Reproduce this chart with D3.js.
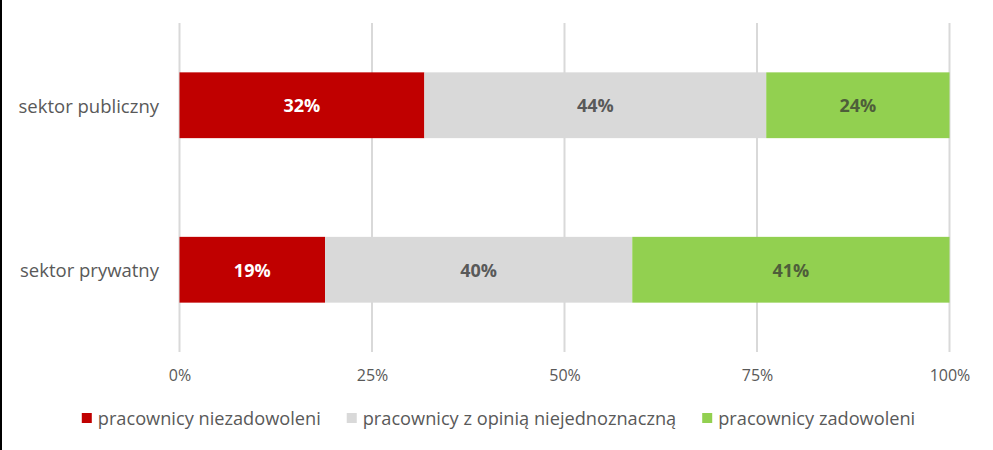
<!DOCTYPE html>
<html><head><meta charset="utf-8">
<script src="https://cdn.jsdelivr.net/npm/d3@7"></script>
<style>
html,body{margin:0;padding:0;background:#fff;}
svg{display:block;font-family:"Open Sans","Noto Sans",sans-serif;}
</style></head>
<body>
<svg id="c" width="993" height="450"></svg>
<script>
const categories = ["sektor publiczny", "sektor prywatny"];
const seriesNames = ["pracownicy niezadowoleni", "pracownicy z opinią niejednoznaczną", "pracownicy zadowoleni"];
const niezadowoleni = [31.8, 18.9];
const niejednoznaczni = [44.4, 39.9];
const zadowoleni = [23.8, 41.2];
const valueLabels = [["32%", "44%", "24%"], ["19%", "40%", "41%"]];
const tickValues = [0, 25, 50, 75, 100];
const colors = ["#C00000", "#D9D9D9", "#92D050"];
const labelColors = ["#FFFFFF", "#595959", "#4E5E3A"];

const svg = d3.select("#c");
svg.append("rect").attr("x",0).attr("y",0).attr("width",2).attr("height",450).attr("fill","#000");

const x = d3.scaleLinear().domain([0,100]).range([179.5, 949.5]);
const y = d3.scaleBand().domain(categories).range([23, 352]).paddingInner(0.6).paddingOuter(0.3);

// gridlines
svg.append("g").selectAll("line").data(tickValues).join("line")
  .attr("x1", d=>x(d)).attr("x2", d=>x(d)).attr("y1", 23).attr("y2", 352)
  .attr("stroke", "#D9D9D9").attr("stroke-width", 2);

const data = categories.map((c,i)=>({cat:c, vals:[niezadowoleni[i], niejednoznaczni[i], zadowoleni[i]], labels:valueLabels[i]}));
const segs = [];
data.forEach(d=>{ let acc=0; d.vals.forEach((v,j)=>{ segs.push({cat:d.cat, s:j, x0:acc, x1:acc+v, label:d.labels[j]}); acc+=v; }); });

svg.append("g").selectAll("rect").data(segs).join("rect")
  .attr("x", d=>x(d.x0)).attr("width", d=>x(d.x1)-x(d.x0))
  .attr("y", d=>y(d.cat)).attr("height", y.bandwidth())
  .attr("fill", d=>colors[d.s]);

svg.append("g").selectAll("text").data(segs).join("text")
  .attr("x", d=>(x(d.x0)+x(d.x1))/2).attr("y", d=>y(d.cat)+y.bandwidth()/2)
  .attr("text-anchor","middle").attr("dominant-baseline","central")
  .attr("font-size", 18).attr("font-weight","bold")
  .attr("fill", d=>labelColors[d.s]).text(d=>d.label);

// category labels
svg.append("g").selectAll("text").data(categories).join("text")
  .attr("x", 159).attr("y", d=>y(d)+y.bandwidth()/2)
  .attr("text-anchor","end").attr("dominant-baseline","central")
  .attr("font-size", 18.5).attr("fill","#595959").text(d=>d);

// x axis tick labels
const xAxis = d3.axisBottom(x).tickValues(tickValues).tickFormat(d=>d+"%").tickSize(0);
const ax = svg.append("g").attr("transform","translate(0,367)").call(xAxis);
ax.select(".domain").remove();
ax.selectAll("text").attr("font-size", 16).attr("fill","#595959").attr("font-family","'Open Sans',sans-serif");

// legend
const lg = svg.append("g");
const items = lg.selectAll("g").data(seriesNames).join("g");
items.append("rect").attr("width",10).attr("height",10).attr("y",-5).attr("fill",(d,i)=>colors[i]);
items.append("text").attr("x",16).attr("dominant-baseline","central").attr("font-size",18.2).attr("fill","#595959").text(d=>d);
let widths = [];
items.each(function(){ widths.push(this.getBBox().width); });
const gap = 26;
const total = d3.sum(widths) + gap*(widths.length-1);
let cx = (993 - total)/2 + 2;
items.attr("transform", (d,i)=>{ const t = `translate(${cx},418)`; cx += widths[i]+gap; return t; });
</script>
</body></html>
